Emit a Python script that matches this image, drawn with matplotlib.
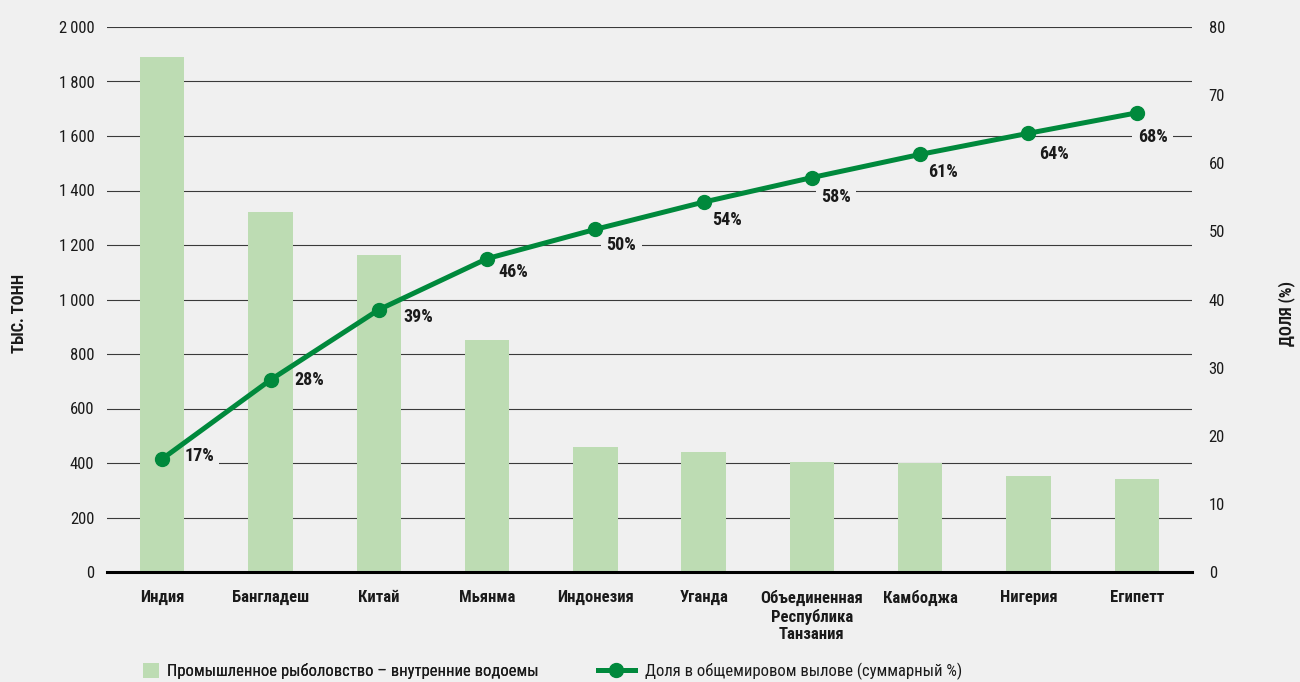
import matplotlib
matplotlib.use("Agg")
import matplotlib.pyplot as plt
from matplotlib.patches import Patch
from matplotlib.lines import Line2D

plt.rcParams['font.family'] = ['Roboto Condensed', 'DejaVu Sans']

categories = ["Индия", "Бангладеш", "Китай", "Мьянма", "Индонезия", "Уганда",
              "Объединенная\nРеспублика\nТанзания", "Камбоджа", "Нигерия", "Египетт"]
catch_kt = [1890, 1320, 1165, 852, 460, 441, 404, 400, 354, 343]
cum_share = [16.6, 28.2, 38.5, 46.0, 50.3, 54.3, 57.9, 61.3, 64.4, 67.4]
cum_labels = ["17%", "28%", "39%", "46%", "50%", "54%", "58%", "61%", "64%", "68%"]
left_ticks = [0, 200, 400, 600, 800, 1000, 1200, 1400, 1600, 1800, 2000]
left_ticklabels = ["0", "200", "400", "600", "800", "1\u2009000", "1\u2009200", "1\u2009400",
                   "1\u2009600", "1\u2009800", "2\u2009000"]
right_ticks = [0, 10, 20, 30, 40, 50, 60, 70, 80]
bar_label = "Промышленное рыболовство – внутренние водоемы"
line_label = "Доля в общемировом вылове (суммарный %)"
left_axis_title = "ТЫС. ТОНН"
right_axis_title = "ДОЛЯ (%)"

# label offsets in pixels (dx right, dy down) - style only
label_offsets = [(22, -3), (24, 0), (25, 7), (11, 13), (11, 16), (8, 18),
                 (9, 19), (8, 18), (11, 21), (1, 24)]

BG = "#f0f0f0"
BAR = "#bddcb3"
LINE = "#00893c"
TXT = "#1a1a1a"
GRID = "#3a3a3a"
FS = 12

fig = plt.figure(figsize=(13, 6.82), dpi=100, facecolor=BG)
ax = fig.add_axes([107/1300, 1-572/682, (1192-107)/1300, (572-27)/682])
ax.set_facecolor(BG)
x = list(range(len(categories)))

ax.set_ylim(0, 2000)
ax.set_xlim(-0.51, len(categories) - 0.49)
ax.set_yticks(left_ticks)
ax.set_yticklabels(left_ticklabels)
ax.set_axisbelow(True)
ax.grid(axis='y', color=GRID, linewidth=0.8)
ax.bar(x, catch_kt, width=0.41, color=BAR, zorder=2)
for s in ['top', 'right', 'left']:
    ax.spines[s].set_visible(False)
ax.spines['bottom'].set_color('black')
ax.spines['bottom'].set_linewidth(2.2)
ax.spines['bottom'].set_zorder(5)
ax.set_xticks(x)
ax.set_xticklabels(categories, fontweight='bold', fontsize=FS, color=TXT, linespacing=1.2)
ax.tick_params(axis='x', length=0, pad=13)
ax.tick_params(axis='y', length=0, pad=9, labelsize=FS, labelcolor=TXT)

ax2 = ax.twinx()
ax2.set_ylim(0, 80)
ax2.set_yticks(right_ticks)
ax2.tick_params(axis='y', length=0, pad=12, labelsize=FS, labelcolor=TXT)
for s in ax2.spines.values():
    s.set_visible(False)
ax2.plot(x, cum_share, color=LINE, linewidth=3.6, marker='o', markersize=10, zorder=4)
for xi, yi, lab, (dx, dy) in zip(x, cum_share, cum_labels, label_offsets):
    ax.annotate(lab, (xi, yi), xycoords=ax2.transData, xytext=(dx, -dy),
                textcoords='offset pixels', ha='left', va='center', fontsize=13,
                fontweight='bold', color=TXT,
                bbox=dict(boxstyle='square,pad=0.3', facecolor=BG, edgecolor='none'),
                zorder=1.5)

fig.text(20/1300, 1-313/682, left_axis_title, rotation=90, ha='center', va='center',
         fontsize=FS, fontweight='bold', color=TXT)
fig.text(1287/1300, 1-313/682, right_axis_title, rotation=90, ha='center', va='center',
         fontsize=FS, fontweight='bold', color=TXT)

h1 = Patch(facecolor=BAR, edgecolor='none')
leg1 = fig.legend([h1], [bar_label], loc='center left', bbox_to_anchor=(143/1300, 1-671/682),
                  frameon=False, borderpad=0, borderaxespad=0, handlelength=0.96, handleheight=0.96,
                  handletextpad=0.5, fontsize=FS)
h2 = Line2D([0], [0], color=LINE, linewidth=3.6, marker='o', markersize=10)
leg2 = fig.legend([h2], [line_label], loc='center left', bbox_to_anchor=(598/1300, 1-671/682),
                  frameon=False, borderpad=0, borderaxespad=0, handlelength=2.2,
                  handletextpad=0.6, fontsize=FS)
for leg in (leg1, leg2):
    for t in leg.get_texts():
        t.set_color(TXT)
fig.add_artist(leg1)

fig.savefig("out.png", dpi=100, facecolor=BG)
